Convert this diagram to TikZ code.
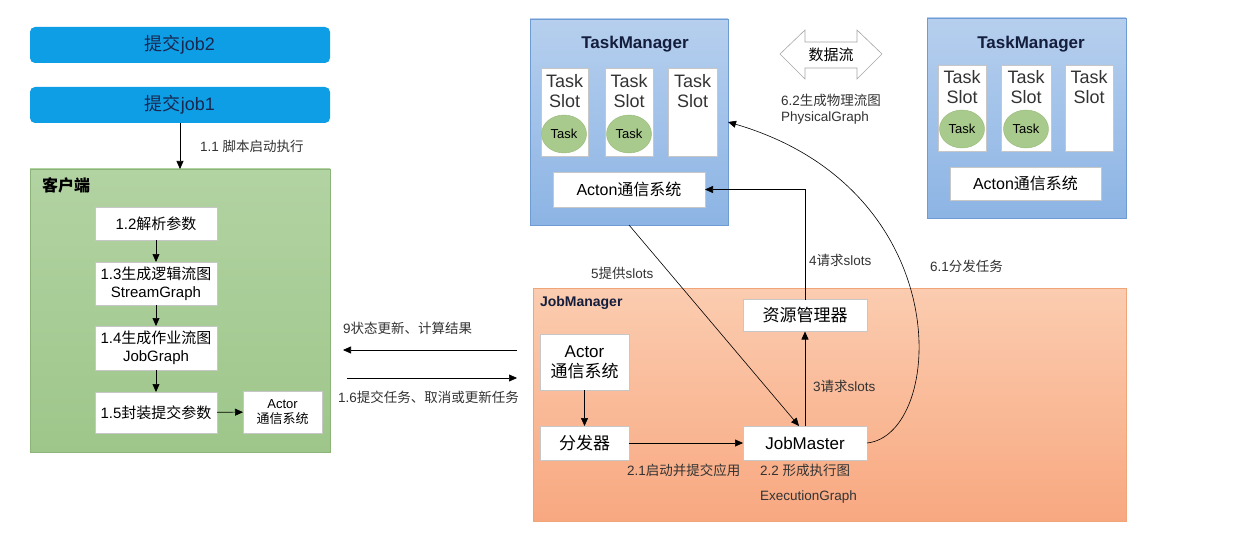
\documentclass[tikz,border=0pt]{standalone}
\usepackage{fontspec}
\setmainfont{Liberation Sans}
\newfontfamily\cjkf{Noto Sans CJK SC}
\newcommand{\zhs}[1]{{\cjkf #1}}
\newcommand{\fs}[2]{\fontsize{#1}{#2}\selectfont}
\usetikzlibrary{arrows.meta,shapes.geometric}
\definecolor{barblue}{RGB}{14,158,230}
\definecolor{bartext}{RGB}{25,40,80}
\definecolor{grtop}{RGB}{178,211,162}
\definecolor{grbot}{RGB}{158,198,138}
\definecolor{grline}{RGB}{140,180,120}
\definecolor{bltop}{RGB}{182,207,238}
\definecolor{blbot}{RGB}{140,180,228}
\definecolor{blline}{RGB}{110,155,210}
\definecolor{ortop}{RGB}{251,204,176}
\definecolor{orbot}{RGB}{248,168,128}
\definecolor{orline}{RGB}{240,165,120}
\definecolor{taskgr}{RGB}{168,202,140}
\definecolor{taskline}{RGB}{150,184,120}
\definecolor{tmtitle}{RGB}{20,30,60}
\begin{document}
\begin{tikzpicture}[x=1pt,y=-1pt,
  every node/.style={inner sep=0pt, outer sep=0pt},
  jobbar/.style={fill=barblue, rounded corners=5pt, minimum width=300pt, minimum height=36pt, font={\fs{18}{21}}, text=bartext},
  wbox/.style={draw=black!22, fill=white, align=center, font={\fs{15}{18}}},
  slotbox/.style={draw=black!22, fill=white},
  slottext/.style={align=center, anchor=north, font={\fs{18}{20}}, text=black!80},
  taskell/.style={ellipse, draw=taskline, fill=taskgr, minimum width=45pt, minimum height=38pt, font={\fs{13}{15}}},
  arr/.style={-{Triangle[length=8pt,width=7pt]}, line width=0.6pt, black},
  lbl/.style={anchor=west, font={\fs{13.5}{16}}, text=black!80, align=left},
  title/.style={anchor=west, font={\bfseries\fs{17}{20}}, text=tmtitle},
]
\fill[white] (0,0) rectangle (1236,540);
\useasboundingbox (0,0) rectangle (1236,540);

% submit bars
\node[jobbar] (job2) at (180,45) {\zhs{提交}job2};
\node[jobbar] (job1) at (180,105) {\zhs{提交}job1};

% client
\node[draw=grline, top color=grtop, bottom color=grbot, minimum width=300pt, minimum height=283pt] (client) at (180,310.5) {};
\node[title, text=black, font={\bfseries\fs{16}{18}}] (clientt) at (42,185) {\zhs{客户端}};
\node[wbox, minimum width=122pt, minimum height=33pt] (p12) at (156,223.5) {1.2\zhs{解析参数}};
\node[wbox, minimum width=122pt, minimum height=43pt] (p13) at (156,283.5) {1.3\zhs{生成逻辑流图}\\StreamGraph};
\node[wbox, minimum width=122pt, minimum height=44pt] (p14) at (156,348) {1.4\zhs{生成作业流图}\\JobGraph};
\node[wbox, minimum width=122pt, minimum height=41pt] (p15) at (156,412.5) {1.5\zhs{封装提交参数}};
\node[wbox, minimum width=79pt, minimum height=42pt, font={\fs{13}{15}}] (cact) at (282.5,412) {Actor\\\zhs{通信系统}};

\draw[arr] (job1.south) -- (client.north);
\node[lbl] (l11) at (200,146) {1.1 \zhs{脚本启动执行}};
\draw[arr] (p12) -- (p13);
\draw[arr] (p13) -- (p14);
\draw[arr] (p14) -- (p15);
\draw[arr] (p15) -- (cact);

% middle arrows
\coordinate (a9s) at (517,350);
\coordinate (a9e) at (343,350);
\coordinate (a16s) at (347,378);
\coordinate (a16e) at (517,378);
\draw[arr] (a9s) -- (a9e);
\draw[arr] (a16s) -- (a16e);
\node[lbl] (l9) at (343,328) {9\zhs{状态更新、计算结果}};
\node[lbl] (l16) at (338,397) {1.6\zhs{提交任务、取消或更新任务}};

% TaskManager 1
\node[draw=blline, top color=bltop, bottom color=blbot, minimum width=198pt, minimum height=206pt] (tm1) at (629,122) {};
\node[title, anchor=center] (tm1t) at (635,44) {TaskManager};
\node[slotbox, minimum width=47pt, minimum height=88pt] (s11) at (564.5,112) {};
\node[slotbox, minimum width=48pt, minimum height=88pt] (s12) at (629,112) {};
\node[slotbox, minimum width=49pt, minimum height=88pt] (s13) at (692.5,112) {};
\node[slottext] (s11t) at ([yshift=-6pt]s11.north) {Task\\Slot};
\node[slottext] (s12t) at ([yshift=-6pt]s12.north) {Task\\Slot};
\node[slottext] (s13t) at ([yshift=-6pt]s13.north) {Task\\Slot};
\node[taskell] (t11) at (564,134) {Task};
\node[taskell] (t12) at (629,134) {Task};
\node[wbox, minimum width=152pt, minimum height=35pt, font={\fs{16}{18}}] (a1) at (629,189.5) {Acton\zhs{通信系统}};

% TaskManager 2
\node[draw=blline, top color=bltop, bottom color=blbot, minimum width=199pt, minimum height=200pt] (tm2) at (1026.5,118) {};
\node[title, anchor=center] (tm2t) at (1031,44) {TaskManager};
\node[slotbox, minimum width=48pt, minimum height=86pt] (s21) at (962,108) {};
\node[slotbox, minimum width=50pt, minimum height=86pt] (s22) at (1026,108) {};
\node[slotbox, minimum width=48pt, minimum height=86pt] (s23) at (1089,108) {};
\node[slottext] (s21t) at ([yshift=-5pt]s21.north) {Task\\Slot};
\node[slottext] (s22t) at ([yshift=-5pt]s22.north) {Task\\Slot};
\node[slottext] (s23t) at ([yshift=-5pt]s23.north) {Task\\Slot};
\node[taskell] (t21) at (962,129) {Task};
\node[taskell] (t22) at (1026,129) {Task};
\node[wbox, minimum width=151pt, minimum height=33pt, font={\fs{16}{18}}] (a2) at (1025.5,183.5) {Acton\zhs{通信系统}};

% data flow double arrow
\draw[draw=black!35, fill=white, line width=0.6pt] (780,54) -- (805,30) -- (805,42) -- (857,42) -- (857,30) -- (882,54) -- (857,79) -- (857,68) -- (805,68) -- (805,79) -- cycle;
\node[font={\fs{15}{17}}] (dflow) at (831,55) {\zhs{数据流}};
\node[lbl] (l62) at (781,109) {6.2\zhs{生成物理流图}\\PhysicalGraph};

% JobManager
\node[draw=orline, top color=ortop, bottom color=orbot, minimum width=593pt, minimum height=233pt] (jmgr) at (829.5,404.5) {};
\node[title, font={\bfseries\fs{14}{16}}] (jmgrt) at (540,303) {JobManager};
\node[wbox, minimum width=124pt, minimum height=32pt, font={\fs{17}{19}}] (rm) at (805,315.5) {\zhs{资源管理器}};
\node[wbox, minimum width=89pt, minimum height=56pt, font={\fs{17}{20}}] (jact) at (584.5,362) {Actor\\\zhs{通信系统}};
\node[wbox, minimum width=89pt, minimum height=34pt, font={\fs{17}{19}}] (dist) at (584.5,443) {\zhs{分发器}};
\node[wbox, minimum width=124pt, minimum height=34pt, font={\fs{17}{19}}] (jm) at (805,443) {JobMaster};

\draw[arr] (jact) -- (dist);
\draw[arr] (dist) -- (jm);
\draw[arr] (jm.north) -- (rm.south);
\draw[arr] (rm.north) |- (a1.east);
\draw[arr] (tm1.south) -- ([xshift=-6pt]jm.north);
\draw[arr] (jm.east) .. controls (945,435) and (960,190) .. (tm1.east);

\node[lbl] (l21) at (627,470) {2.1\zhs{启动并提交应用}};
\node[lbl] (l22) at (760,470) {2.2 \zhs{形成执行图}};
\node[lbl] (l22b) at (760,497) {ExecutionGraph};
\node[lbl] (l3) at (813,386) {3\zhs{请求}slots};
\node[lbl] (l4) at (809,260) {4\zhs{请求}slots};
\node[lbl] (l5) at (591,273) {5\zhs{提供}slots};
\node[lbl] (l61) at (930,266) {6.1\zhs{分发任务}};
\end{tikzpicture}
\end{document}
